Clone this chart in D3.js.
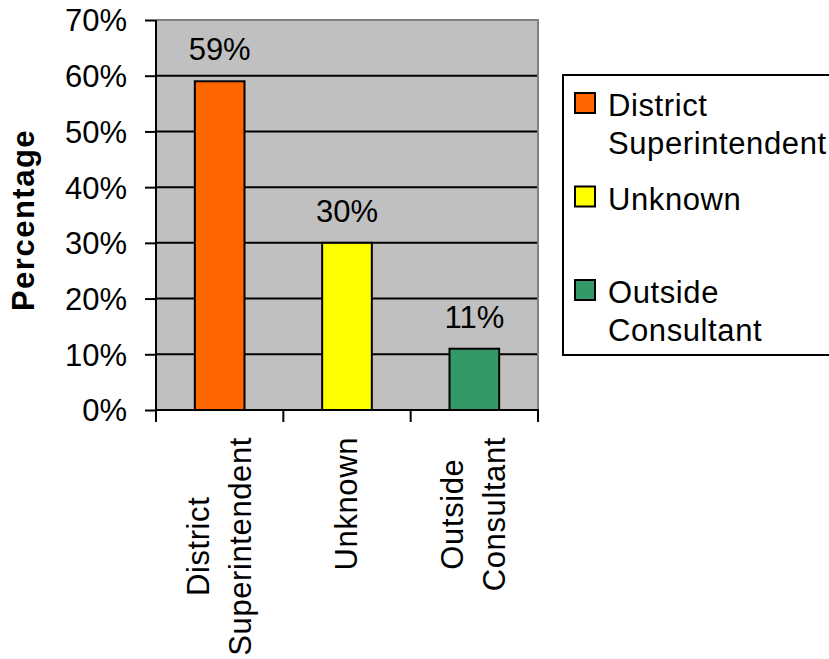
<!DOCTYPE html>
<html>
<head>
<meta charset="utf-8">
<script src="https://cdn.jsdelivr.net/npm/d3@7"></script>
<style>
  html, body { margin: 0; padding: 0; background: #ffffff; }
  svg { display: block; }
  text { font-family: "Liberation Sans", Arial, Helvetica, sans-serif; fill: #000; }
</style>
</head>
<body>
<svg id="chart" width="829" height="659"></svg>
<script>
// Who prepared the plan: share of responses by source
const categories = ["District Superintendent", "Unknown", "Outside Consultant"];
const categoryLines = [["District", "Superintendent"], ["Unknown"], ["Outside", "Consultant"]];
const values = [0.59, 0.30, 0.11];
const colors = ["#FF6600", "#FFFF00", "#339966"];
const tickValues = [0, 0.1, 0.2, 0.3, 0.4, 0.5, 0.6, 0.7];
const yTitle = "Percentage";

const plot = { left: 156, right: 538, top: 20, bottom: 410 };
const fontSize = 31;
const wordSpacing = "0.6px";

const svg = d3.select("#chart");

const x = d3.scaleBand().domain(categories).range([plot.left, plot.right]).padding(0);
const y = d3.scaleLinear().domain([0, 0.7]).range([plot.bottom, plot.top]);
const pct = d3.format(".0%");

// plot area background
svg.append("rect")
  .attr("x", plot.left).attr("y", plot.top)
  .attr("width", plot.right - plot.left).attr("height", plot.bottom - plot.top)
  .attr("fill", "#C0C0C0");

// horizontal gridlines
svg.append("g")
  .selectAll("line")
  .data(tickValues.filter(v => v > 0 && v < 0.7))
  .join("line")
  .attr("x1", plot.left).attr("x2", plot.right)
  .attr("y1", d => y(d)).attr("y2", d => y(d))
  .attr("stroke", "#000").attr("stroke-width", 2);

// grey frame on the top and right of the plot area
svg.append("path")
  .attr("d", `M${plot.left},${plot.top}H${plot.right}V${plot.bottom}`)
  .attr("fill", "none").attr("stroke", "#808080").attr("stroke-width", 2);

// bars
const barW = x.bandwidth() * 0.39;
svg.append("g")
  .selectAll("rect")
  .data(categories)
  .join("rect")
  .attr("x", (d) => x(d) + (x.bandwidth() - barW) / 2)
  .attr("y", (d, i) => y(values[i]))
  .attr("width", barW)
  .attr("height", (d, i) => y(0) - y(values[i]))
  .attr("fill", (d, i) => colors[i])
  .attr("stroke", "#000").attr("stroke-width", 2);

// value labels
svg.append("g")
  .selectAll("text")
  .data(categories)
  .join("text")
  .attr("x", d => x(d) + x.bandwidth() / 2)
  .attr("y", (d, i) => y(values[i]) - 21)
  .attr("text-anchor", "middle")
  .attr("font-size", fontSize)
  .text((d, i) => pct(values[i]));

// y axis
const yAxis = d3.axisLeft(y).tickValues(tickValues).tickFormat(pct).tickSize(11).tickPadding(18);
const gy = svg.append("g").attr("transform", `translate(${plot.left},0)`).call(yAxis);
gy.select(".domain").remove();
gy.selectAll(".tick line").attr("stroke", "#000").attr("stroke-width", 2);
gy.selectAll(".tick text").attr("font-size", fontSize).attr("font-family", null).attr("dy", "0.35em");
svg.append("line")
  .attr("x1", plot.left).attr("x2", plot.left)
  .attr("y1", plot.top).attr("y2", plot.bottom + 1)
  .attr("stroke", "#000").attr("stroke-width", 2);

// x axis line and tick marks at band boundaries
svg.append("line")
  .attr("x1", plot.left - 1).attr("x2", plot.right + 1)
  .attr("y1", plot.bottom).attr("y2", plot.bottom)
  .attr("stroke", "#000").attr("stroke-width", 2);
const bounds = categories.map(d => x(d)).concat([x(categories[categories.length - 1]) + x.bandwidth()]);
svg.append("g")
  .selectAll("line")
  .data(bounds)
  .join("line")
  .attr("x1", d => d).attr("x2", d => d)
  .attr("y1", plot.bottom).attr("y2", plot.bottom + 12)
  .attr("stroke", "#000").attr("stroke-width", 2);

// rotated category labels, block top-aligned under the axis
const labelTop = 437;
const lineGap = 42;
const capH = fontSize * 0.716;
categoryLines.forEach((lines, i) => {
  const cx = x(categories[i]) + x.bandwidth() / 2 - 1;
  const tmp = svg.append("text").attr("font-size", fontSize).style("letter-spacing", wordSpacing);
  let maxW = 0;
  lines.forEach(l => { tmp.text(l); maxW = Math.max(maxW, tmp.node().getComputedTextLength()); });
  tmp.remove();
  const cy = labelTop + maxW / 2;
  const n = lines.length;
  lines.forEach((l, j) => {
    // baseline x of line j so the block of caps is centred on the band
    const bx = cx + capH / 2 + (j - (n - 1) / 2) * lineGap;
    svg.append("text")
      .attr("transform", `translate(${bx},${cy}) rotate(-90)`)
      .attr("text-anchor", "middle")
      .attr("font-size", fontSize)
      .style("letter-spacing", wordSpacing)
      .text(l);
  });
});

// y axis title
svg.append("text")
  .attr("transform", `translate(${34},${220}) rotate(-90)`)
  .attr("text-anchor", "middle")
  .attr("font-size", fontSize)
  .attr("font-weight", "bold")
  .style("letter-spacing", "1.5px")
  .text(yTitle);

// legend
const lg = { x: 563, y: 75, w: 300, h: 280 };
svg.append("rect")
  .attr("x", lg.x).attr("y", lg.y).attr("width", lg.w).attr("height", lg.h)
  .attr("fill", "#fff").attr("stroke", "#000").attr("stroke-width", 2);
const entryStep = 93.5, legLineGap = 38;
categoryLines.forEach((lines, i) => {
  const top = lg.y + 18 + i * entryStep;
  svg.append("rect")
    .attr("x", lg.x + 12).attr("y", top)
    .attr("width", 20).attr("height", 20)
    .attr("fill", colors[i]).attr("stroke", "#000").attr("stroke-width", 2);
  lines.forEach((l, j) => {
    svg.append("text")
      .attr("x", lg.x + 45).attr("y", top + 23 + j * legLineGap)
      .attr("font-size", fontSize)
      .style("letter-spacing", wordSpacing)
      .text(l);
  });
});
</script>
</body>
</html>
